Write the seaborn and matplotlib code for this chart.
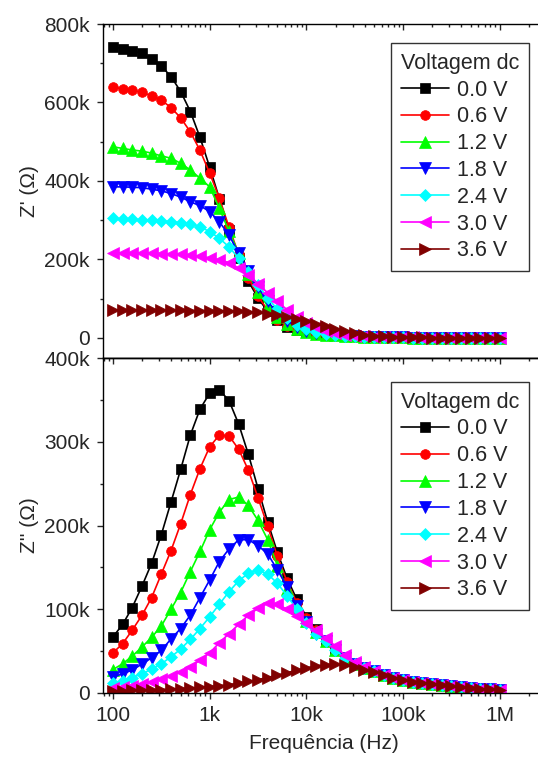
import matplotlib
matplotlib.use('Agg')
import matplotlib.pyplot as plt
import seaborn as sns
from matplotlib.ticker import FixedLocator, MultipleLocator, NullFormatter, LogLocator

# ---------------- data (impedance in kOhm) ----------------
freq = [100, 126, 158, 200, 251, 316, 398, 501, 631, 794,
        1000, 1259, 1585, 1995, 2512, 3162, 3981, 5012, 6310, 7943,
        10000, 12589, 15849, 19953, 25119, 31623, 39811, 50119, 63096, 79433,
        100000, 125893, 158489, 199526, 251189, 316228, 398107, 501187, 630957, 794328,
        1000000]

voltages = ['0.0 V', '0.6 V', '1.2 V', '1.8 V', '2.4 V', '3.0 V', '3.6 V']

zre_00 = [742, 737, 731, 725, 710, 693, 666, 628, 577, 511, 435,
          355, 275, 203, 145, 101, 68, 45, 29, 20, 14,
          11, 8.5, 6.5, 5, 4, 3.2, 2.6, 2.1, 1.7, 1.4, 1.2, 1.0, 0.9, 0.8, 0.7, 0.6, 0.5, 0.5, 0.4, 0.4]
zre_06 = [639, 635, 631, 626, 617, 606, 587, 561, 525, 478, 420,
          356, 282, 213, 153, 106, 71, 47, 31, 20, 14,
          11, 8.5, 6.5, 5, 4, 3.2, 2.6, 2.1, 1.7, 1.4, 1.2, 1.0, 0.9, 0.8, 0.7, 0.6, 0.5, 0.5, 0.4, 0.4]
zre_12 = [487, 483, 479, 476, 471, 464, 458, 445, 428, 407, 385,
          330, 272, 216, 163, 117, 81, 54, 36, 24, 16,
          11, 8.5, 6.5, 5, 4, 3.2, 2.6, 2.1, 1.7, 1.4, 1.2, 1.0, 0.9, 0.8, 0.7, 0.6, 0.5, 0.5, 0.4, 0.4]
zre_18 = [385, 385, 384, 383, 379, 375, 368, 359, 347, 337, 322,
          296, 262, 216, 171, 129, 93, 64, 43, 29, 19,
          12.5, 9, 6.5, 5, 4, 3.2, 2.6, 2.1, 1.7, 1.4, 1.2, 1.0, 0.9, 0.8, 0.7, 0.6, 0.5, 0.5, 0.4, 0.4]
zre_24 = [305, 302, 302, 301, 301, 299, 296, 294, 290, 283, 271,
          254, 232, 203, 169, 135, 102, 73, 51, 34, 23,
          15, 10, 7, 5.2, 4.1, 3.3, 2.6, 2.1, 1.7, 1.4, 1.2, 1.0, 0.9, 0.8, 0.7, 0.6, 0.5, 0.5, 0.4, 0.4]
zre_30 = [217, 217, 217, 216, 216, 215, 214, 213, 211, 208, 204,
          199, 192, 178, 160, 138, 115, 93, 72, 53, 38,
          27, 19, 13, 8, 5.8, 4.3, 3.3, 2.6, 2.0, 1.6, 1.3, 1.1, 0.9, 0.8, 0.7, 0.6, 0.5, 0.5, 0.4, 0.4]
zre_36 = [71, 71, 71, 71, 71, 71, 70.5, 70.5, 70, 70, 69.5, 69, 68.5, 68,
          67, 65, 62, 58, 54, 48, 42, 36, 29.5, 23, 17, 12, 8.5, 6, 4.3, 3.2,
          2.4, 1.8, 1.4, 1.1, 0.9, 0.8, 0.7, 0.6, 0.5, 0.5, 0.4]

zim_00 = [67, 82, 102, 128, 155, 189, 228, 267, 308, 339, 358, 362, 349, 321, 285, 244, 204,
          168, 137, 112,
          91, 76, 62, 51, 42, 35, 30, 26, 22, 18.5, 15.5, 13.5, 12, 10.5, 9, 7.8, 6.8, 6, 5, 4.3, 3.6]
zim_06 = [48, 59, 75, 93, 114, 142, 170, 202, 237, 268, 294, 308, 307, 291, 266, 233, 199,
          163, 133, 108,
          89, 75, 62, 51, 42, 35, 30, 26, 22, 18.5, 15.5, 13.5, 12, 10.5, 9, 7.8, 6.8, 6, 5, 4.3, 3.6]
zim_12 = [28, 35, 44, 55, 66.5, 80, 100, 120, 145, 169, 195, 216, 231, 234, 224, 206, 183,
          152, 124, 102,
          86, 73, 62, 51, 42, 35, 30, 26, 22, 18.5, 15.5, 13.5, 12, 10.5, 9, 7.8, 6.8, 6, 5, 4.3, 3.6]
zim_18 = [19.5, 22.7, 27.5, 34.6, 42, 51, 64.5, 77, 93, 114, 135, 157, 172, 183, 183, 176, 166,
          147, 127, 104,
          85, 71, 62, 51, 42, 35, 30, 26, 22, 18.5, 15.5, 13.5, 12, 10.5, 9, 7.8, 6.8, 6, 5, 4.3, 3.6]
zim_24 = [11.5, 14.5, 18.5, 23, 28.5, 35, 43, 52.5, 64, 77, 91, 106, 121, 134, 143, 147, 142,
          131, 116, 100,
          83, 70, 62, 51, 42, 35, 30, 26, 22, 18.5, 15.5, 13.5, 12, 10.5, 9, 7.8, 6.8, 6, 5, 4.3, 3.6]
zim_30 = [5.5, 7, 8.7, 11, 13.5, 16.5, 20.5, 25.5, 31.5, 39, 48, 60, 71, 82, 93, 101, 107,
          106, 100, 92, 83, 75, 66, 56, 45,
          37, 31, 26.5, 22, 18.5, 15.5, 13.5, 12, 10.5, 9, 7.8, 6.8, 6, 5, 4.3, 3.6]
zim_36 = [2.5, 2.7, 3, 3.3, 3.7, 4.1, 4.6, 5.2, 5.9, 6.7, 7.6, 8.7, 10, 11.8, 13.8, 16, 18.5,
          21.3, 24.2, 27.2, 30, 32.3, 33.8, 34.2, 33.2, 30.8, 27.8, 24.8, 21.6, 18.5, 15.5,
          13.5, 12, 10.5, 9, 7.8, 6.8, 6, 5, 4.3, 3.6]

zre_series = [zre_00, zre_06, zre_12, zre_18, zre_24, zre_30, zre_36]
zim_series = [zim_00, zim_06, zim_12, zim_18, zim_24, zim_30, zim_36]

x_ticks = [100, 1000, 10000, 100000, 1000000]
x_ticklabels = ['100', '1k', '10k', '100k', '1M']
y1_ticks = [0, 200, 400, 600, 800]
y1_ticklabels = ['0', '200k', '400k', '600k', '800k']
y2_ticks = [0, 100, 200, 300, 400]
y2_ticklabels = ['0', '100k', '200k', '300k', '400k']

colors = ['#000000', '#FF0000', '#00FF00', '#0000FF', '#00FFFF', '#FF00FF', '#800000']
markers = ['s', 'o', '^', 'v', 'D', '<', '>']
msizes = [6.5, 7, 8, 8, 6, 8, 8]

# ---------------- style ----------------
sns.set_style('ticks')
plt.rcParams['font.family'] = ['Liberation Sans', 'DejaVu Sans']
plt.rcParams['axes.linewidth'] = 1.0
plt.rcParams['axes.edgecolor'] = '#000000'

W, H = 538, 760
fig = plt.figure(figsize=(W / 100, H / 100), dpi=100)
left, right = 103, 545
ax1 = fig.add_axes([left / W, 1 - 358 / H, (right - left) / W, (358 - 24) / H])
ax2 = fig.add_axes([left / W, 1 - 693 / H, (right - left) / W, (693 - 358) / H])

xmin = 10 ** (2 - 10 / 96.7)
xmax = 10 ** (2 + (right - 113) / 96.7)

for ax in (ax1, ax2):
    ax.set_xscale('log')

for ax, series in ((ax1, zre_series), (ax2, zim_series)):
    for i, v in enumerate(voltages):
        sns.lineplot(x=freq, y=series[i], ax=ax, color=colors[i], marker=markers[i],
                     markersize=msizes[i], markeredgecolor=colors[i], markeredgewidth=0.5,
                     linewidth=1.2, label=v, sort=False, estimator=None)

for ax in (ax1, ax2):
    ax.set_xlim(xmin, xmax)
    ax.xaxis.set_major_locator(FixedLocator(x_ticks))
    ax.xaxis.set_minor_locator(LogLocator(base=10, subs=range(2, 10), numticks=20))
    ax.xaxis.set_minor_formatter(NullFormatter())
    ax.tick_params(axis='y', which='major', direction='out', length=4.5, width=1.0,
                   labelsize=15, pad=5, left=True, right=False)
    ax.tick_params(axis='y', which='minor', direction='out', length=2.5, width=1.0,
                   left=True, right=False)
    for s in ax.spines.values():
        s.set_linewidth(1.0)
        s.set_color('black')

ax1.set_ylim(-51, 800)
ax1.set_yticks(y1_ticks)
ax1.set_yticklabels(y1_ticklabels)
ax1.yaxis.set_minor_locator(MultipleLocator(100))
ax1.tick_params(axis='x', which='both', direction='in', top=True, bottom=False,
                labelbottom=False, labeltop=False)
ax1.tick_params(axis='x', which='major', length=4.5, width=1.0)
ax1.tick_params(axis='x', which='minor', length=2.5, width=1.0)
ax1.set_xlabel('')
ax1.set_ylabel("Z' (Ω)", fontsize=15, labelpad=4)

ax2.set_ylim(0, 400)
ax2.set_yticks(y2_ticks)
ax2.set_yticklabels(y2_ticklabels)
ax2.yaxis.set_minor_locator(MultipleLocator(50))
ax2.set_xticks(x_ticks)
ax2.set_xticklabels(x_ticklabels)
ax2.tick_params(axis='x', which='both', direction='out', top=False, bottom=True,
                labelsize=15, pad=5)
ax2.tick_params(axis='x', which='major', length=4.5, width=1.0)
ax2.tick_params(axis='x', which='minor', length=2.5, width=1.0)
sec = ax2.secondary_xaxis('top')
sec.xaxis.set_major_locator(FixedLocator(x_ticks))
sec.xaxis.set_minor_locator(LogLocator(base=10, subs=range(2, 10), numticks=20))
sec.tick_params(axis='x', which='both', direction='in', labeltop=False)
sec.tick_params(axis='x', which='major', length=4.5, width=1.0)
sec.tick_params(axis='x', which='minor', length=2.5, width=1.0)
sec.spines['top'].set_linewidth(1.0)
ax2.set_ylabel("Z'' (Ω)", fontsize=15, labelpad=4)
ax2.set_xlabel('Frequência (Hz)', fontsize=15, labelpad=6)

for ax, top_px in ((ax1, 43), (ax2, 382)):
    leg = ax.legend(title='Voltagem dc', loc='upper right',
                    bbox_to_anchor=(529 / W, 1 - top_px / H), bbox_transform=fig.transFigure,
                    borderaxespad=0, frameon=True, fancybox=False, framealpha=1,
                    fontsize=15.5, title_fontsize=15.5, handlelength=2.25, handletextpad=0.35,
                    labelspacing=0.27, borderpad=0.45)
    leg.get_frame().set_edgecolor('#333333')
    leg.get_frame().set_linewidth(1.0)
    leg._legend_box.align = 'left'

fig.savefig('out.png', dpi=100)
